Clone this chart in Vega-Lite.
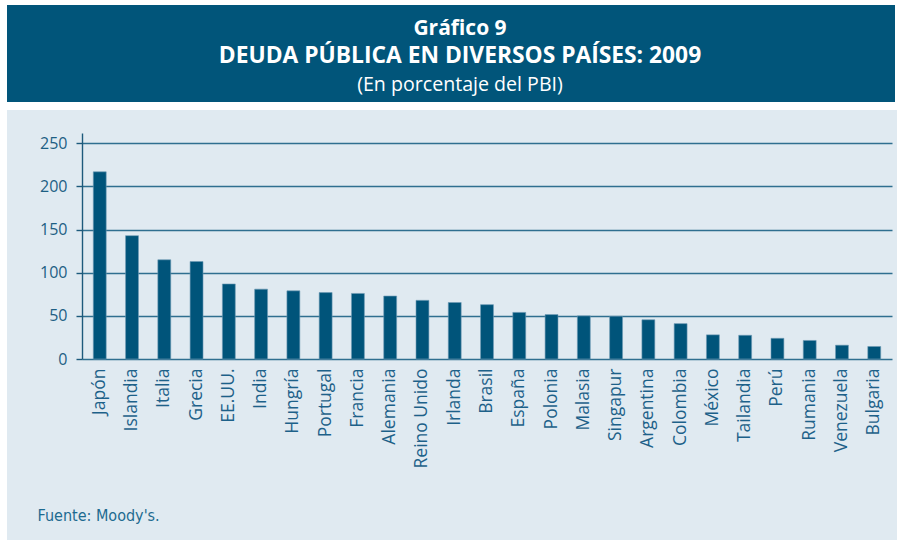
{
  "$schema": "https://vega.github.io/schema/vega-lite/v6.json",
  "background": "white",
  "padding": {"left": 7, "top": 5, "right": 7, "bottom": 0},
  "autosize": {"type": "pad"},
  "bounds": "flush",
  "spacing": 8,
  "config": {"view": {"stroke": null}, "font": "Open Sans"},
  "vconcat": [
    {
      "width": 888,
      "height": 97,
      "view": {"fill": "#01557a", "stroke": null},
      "data": {"values": [
        {"orden": 1, "texto": "Gráfico 9"},
        {"orden": 2, "texto": "DEUDA PÚBLICA EN DIVERSOS PAÍSES: 2009"},
        {"orden": 3, "texto": "(En porcentaje del PBI)"}
      ]},
      "encoding": {
        "y": {"field": "orden", "type": "quantitative", "scale": {"domain": [0, 3.4], "reverse": true, "nice": false, "zero": false}, "axis": null},
        "text": {"field": "texto"}
      },
      "layer": [
        {"transform": [{"filter": "datum.orden == 1"}], "mark": {"type": "text", "font": "Open Sans", "fontWeight": "bold", "fontSize": 21, "fill": "white", "baseline": "alphabetic", "align": "center", "dx": 9, "dy": 1}},
        {"transform": [{"filter": "datum.orden == 2"}], "mark": {"type": "text", "font": "Open Sans", "fontWeight": "bold", "fontSize": 22.8, "fill": "white", "baseline": "alphabetic", "align": "center", "dx": 9, "dy": 1}},
        {"transform": [{"filter": "datum.orden == 3"}], "mark": {"type": "text", "font": "Open Sans", "fontSize": 19.6, "fill": "white", "baseline": "alphabetic", "align": "center", "dx": 9}}
      ]
    },
    {
      "width": 890,
      "height": 430,
      "view": {"fill": "#e0eaf1", "stroke": null},
      "data": {"values": [
        {"pais": "Japón", "deuda": 217},
        {"pais": "Islandia", "deuda": 143},
        {"pais": "Italia", "deuda": 115},
        {"pais": "Grecia", "deuda": 113},
        {"pais": "EE.UU.", "deuda": 87},
        {"pais": "India", "deuda": 81},
        {"pais": "Hungría", "deuda": 79},
        {"pais": "Portugal", "deuda": 77},
        {"pais": "Francia", "deuda": 76},
        {"pais": "Alemania", "deuda": 73},
        {"pais": "Reino Unido", "deuda": 68},
        {"pais": "Irlanda", "deuda": 65.5},
        {"pais": "Brasil", "deuda": 63},
        {"pais": "España", "deuda": 54},
        {"pais": "Polonia", "deuda": 51.5},
        {"pais": "Malasia", "deuda": 50},
        {"pais": "Singapur", "deuda": 49.5},
        {"pais": "Argentina", "deuda": 45.5},
        {"pais": "Colombia", "deuda": 41},
        {"pais": "México", "deuda": 28},
        {"pais": "Tailandia", "deuda": 27.5},
        {"pais": "Perú", "deuda": 24},
        {"pais": "Rumania", "deuda": 21.5},
        {"pais": "Venezuela", "deuda": 16},
        {"pais": "Bulgaria", "deuda": 14.5}
      ]},
      "mark": {"type": "bar", "fill": "#00547a", "stroke": "#6f9bb5", "strokeWidth": 0.6},
      "encoding": {
        "x": {
          "field": "pais", "type": "nominal", "sort": null,
          "scale": {"range": [75, 885], "paddingInner": 0.6, "paddingOuter": 0.35},
          "axis": {
            "title": "Fuente: Moody's.",
            "titleX": 30, "titleY": 161.7,
            "titleAlign": "left", "titleBaseline": "alphabetic", "titleAngle": 0,
            "titleFont": "DejaVu Sans Condensed, Roboto, sans-serif", "titleFontSize": 16, "titleFontWeight": "normal", "titleColor": "#1d6a90",
            "offset": -181,
            "domain": false, "ticks": false, "grid": false,
            "labelAngle": -90, "labelAlign": "right", "labelBaseline": "middle",
            "labelPadding": 9, "labelFont": "Open Sans", "labelFontSize": 17.5, "labelColor": "#1d6189", "labelOverlap": false
          }
        },
        "y": {
          "field": "deuda", "type": "quantitative",
          "scale": {"domain": [0, 262], "range": [249, 23], "nice": false, "zero": true},
          "axis": {
            "title": null,
            "values": [0, 50, 100, 150, 200, 250],
            "offset": -75,
            "domainColor": "#1d5a7c", "domainWidth": 1.4,
            "tickColor": "#1d5a7c", "tickSize": 6, "tickWidth": 1.4,
            "grid": true, "gridColor": "#2f6f90", "gridWidth": 1.4,
            "labelFont": "Open Sans", "labelFontSize": 16, "labelColor": "#1d5f84", "labelPadding": 9
          }
        }
      }
    }
  ]
}
